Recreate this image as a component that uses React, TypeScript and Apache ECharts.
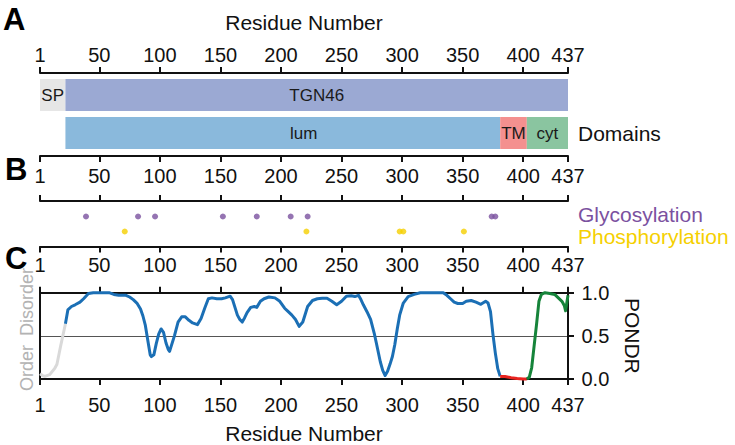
import React, { useEffect, useRef } from 'react';
import * as echarts from 'echarts';

// ---------- data ----------
const residueTicks = [1, 50, 100, 150, 200, 250, 300, 350, 400, 437];

const segmentLabels = ['SP', 'TGN46', 'lum', 'TM', 'cyt'];
const segmentStarts = [1, 22, 22, 381, 403];
const segmentEnds = [22, 437, 381, 403, 437];
const segmentRows = [0, 0, 1, 1, 1];
const rowNames = ['TGN46', 'Domains'];

const ptmRows = ['Glycosylation', 'Phosphorylation'];
const glycosylationSites = [39, 82, 96, 152, 180, 208, 222, 374, 377];
const phosphorylationSites = [71, 221, 298, 301, 351];

const pondrResidues = [
  1, 3, 5, 9, 13, 15, 18, 22, 24, 27, 30, 34, 37, 41, 45, 52, 58, 62, 66, 72, 75, 78, 81, 84, 86, 88, 90, 92, 93, 95,
  97, 99, 101, 103, 105, 107, 108, 110, 112, 115, 118, 121, 124, 127, 131, 134, 137, 140, 143, 147, 151, 154, 158, 160,
  162, 164, 166, 168, 170, 172, 175, 178, 180, 183, 186, 190, 195, 199, 203, 206, 209, 212, 215, 218, 220, 222, 226,
  230, 234, 238, 242, 246, 250, 254, 258, 261, 264, 266, 268, 271, 274, 277, 279, 282, 284, 286, 288, 290, 292, 294,
  296, 298, 301, 305, 310, 315, 320, 328, 334, 337, 340, 343, 346, 350, 353, 357, 361, 365, 369, 371, 373, 375, 377,
  379, 381, 385, 390, 395, 400, 403, 405, 407, 409, 411, 413, 415, 418, 422, 426, 429, 432, 434, 435, 436, 437,
];
const pondrValues = [
  0.06, 0.04, 0.03, 0.05, 0.12, 0.17, 0.38, 0.64, 0.8, 0.84, 0.86, 0.89, 0.93, 0.99, 1.0, 1.0, 1.0, 0.98, 0.97, 0.97,
  0.95, 0.92, 0.88, 0.81, 0.73, 0.62, 0.45, 0.28, 0.26, 0.28, 0.41, 0.52, 0.58, 0.54, 0.42, 0.34, 0.32, 0.41, 0.5, 0.66,
  0.72, 0.72, 0.68, 0.65, 0.63, 0.7, 0.82, 0.93, 0.94, 0.93, 0.93, 0.94, 0.96, 0.92, 0.83, 0.74, 0.69, 0.66, 0.71, 0.77,
  0.83, 0.84, 0.83, 0.9, 0.93, 0.95, 0.94, 0.9, 0.82, 0.78, 0.74, 0.69, 0.61, 0.66, 0.75, 0.84, 0.91, 0.93, 0.935,
  0.935, 0.9, 0.86, 0.9, 0.96, 0.965, 0.955, 0.97, 0.92, 0.86, 0.78, 0.69, 0.53, 0.4, 0.2, 0.1, 0.04, 0.09, 0.17, 0.26,
  0.4, 0.58, 0.74, 0.88, 0.955, 0.98, 1.0, 1.0, 1.0, 1.0, 0.97, 0.93, 0.89, 0.875, 0.875, 0.9, 0.91, 0.89, 0.865, 0.9,
  0.88, 0.78, 0.52, 0.3, 0.12, 0.03, 0.03, 0.015, 0.005, 0.0, 0.0, 0.02, 0.13, 0.38, 0.63, 0.9, 0.98, 1.0, 0.99, 0.98,
  0.94, 0.9, 0.85, 0.79, 0.88, 0.97,
];
const pondrTicks = [0, 0.5, 1];

// ---------- styles ----------
const FONT = '"Liberation Sans", Arial, Helvetica, sans-serif';
const INK = '#111';
const segmentColors = ['#e6e6e6', '#9ba9d3', '#8ab9dc', '#f4908f', '#8ac5a0'];
const segmentLabelShift = [0, 0, 21, 0, 0];
const pondrSegments = [0, 2, 3, 4]; // SP, lum, TM, cyt
const pondrColors = ['#d9d9d9', '#1b6fb5', '#e8231f', '#16843a'];
const ptmColors = ['#7b519f', '#f5d000'];

const lineStyle = { color: INK, width: 2 };

function residueAxis(gridIndex: number, position: string, opts: any) {
  return {
    type: 'value',
    gridIndex,
    position,
    min: 1,
    max: 437,
    offset: opts.offset || 0,
    axisLine: { show: true, onZero: false, lineStyle },
    axisTick: {
      show: true,
      inside: !!opts.tickInside,
      length: 6,
      customValues: residueTicks,
      lineStyle,
    },
    axisLabel: {
      show: !!opts.labels,
      inside: !!opts.labelInside,
      margin: opts.margin ?? 8,
      customValues: residueTicks,
      fontSize: 20,
      fontFamily: FONT,
      color: INK,
    },
    splitLine: { show: false },
    name: opts.name,
    nameLocation: 'middle',
    nameGap: opts.nameGap,
    nameTextStyle: { fontSize: 21, fontFamily: FONT, color: INK },
  };
}

export default function App() {
  const ref = useRef<HTMLDivElement>(null);

  useEffect(() => {
    if (!ref.current) return;
    const chart = echarts.init(ref.current, undefined, { renderer: 'svg' });

    const segData = segmentLabels.map((_, i) => [segmentStarts[i], segmentEnds[i], segmentRows[i], i]);

    const pondrSeries = pondrSegments.map((seg, k) => {
      const data: number[][] = [];
      pondrResidues.forEach((r, i) => {
        if (r >= segmentStarts[seg] && r <= segmentEnds[seg]) data.push([r, pondrValues[i]]);
      });
      return {
        type: 'line',
        xAxisIndex: 5,
        yAxisIndex: 4,
        data,
        symbol: 'none',
        clip: false,
        lineStyle: { color: pondrColors[k], width: 3, join: 'round' },
        z: 5,
      };
    });

    const letter = (t: string, x: number, y: number) => ({
      type: 'text',
      x,
      y,
      style: { text: t, fontSize: 31, fontWeight: 'bold', fontFamily: FONT, fill: '#000', verticalAlign: 'middle' },
    });

    const option: any = {
      animation: false,
      backgroundColor: '#fff',
      grid: [
        { left: 40, width: 528, top: 76, height: 76 },
        { left: 40, width: 528, top: 156, height: 45 },
        { left: 40, width: 528, top: 209, height: 30 },
        { left: 40, width: 528, top: 246.5, height: 46.2 },
        { left: 40, width: 528, top: 292.7, height: 86.6 },
      ],
      xAxis: [
        residueAxis(0, 'top', { labels: true, margin: 8.5, offset: 3, name: 'Residue Number', nameGap: 40 }),
        residueAxis(1, 'top', { labels: true, labelInside: true, tickInside: true, margin: 10 }),
        residueAxis(1, 'bottom', { tickInside: true }),
        { type: 'value', gridIndex: 2, min: 1, max: 437, show: false },
        residueAxis(3, 'top', { labels: true, labelInside: true, tickInside: true, margin: 8.5 }),
        residueAxis(4, 'bottom', { labels: true, margin: 15.5, name: 'Residue Number', nameGap: 44 }),
        residueAxis(4, 'top', {}),
      ],
      yAxis: [
        { type: 'category', gridIndex: 0, data: rowNames, inverse: true, show: false },
        { type: 'value', gridIndex: 1, show: false, min: 0, max: 1 },
        { type: 'category', gridIndex: 2, data: ptmRows, inverse: true, show: false },
        { type: 'value', gridIndex: 3, show: false, min: 0, max: 1 },
        {
          type: 'value',
          gridIndex: 4,
          position: 'right',
          min: 0,
          max: 1,
          interval: 0.5,
          axisLine: { show: true, onZero: false, lineStyle },
          axisTick: { show: true, length: 6, lineStyle, customValues: pondrTicks },
          axisLabel: {
            fontSize: 20,
            fontFamily: FONT,
            color: INK,
            margin: 13.5,
            formatter: (v: number) => v.toFixed(1),
          },
          splitLine: { show: true, lineStyle: { color: '#555', width: 1.2 } },
          name: 'PONDR',
          nameLocation: 'middle',
          nameRotate: -90,
          nameGap: 54,
          nameTextStyle: { fontSize: 21, fontFamily: FONT, color: INK },
        },
        {
          type: 'value',
          gridIndex: 4,
          position: 'left',
          min: 0,
          max: 1,
          axisLine: { show: true, onZero: false, lineStyle },
          axisTick: { show: false },
          axisLabel: { show: false },
          splitLine: { show: false },
        },
      ],
      series: [
        {
          type: 'custom',
          xAxisIndex: 0,
          yAxisIndex: 0,
          data: segData,
          encode: { x: [0, 1], y: 2 },
          renderItem: (params: any, api: any) => {
            const s = api.value(0);
            const e = api.value(1);
            const row = api.value(2);
            const idx = api.value(3);
            const p0 = api.coord([s, row]);
            const p1 = api.coord([e, row]);
            const h = api.size([0, 1])[1] * 0.842;
            return {
              type: 'group',
              children: [
                {
                  type: 'rect',
                  shape: { x: p0[0], y: p0[1] - h / 2, width: p1[0] - p0[0], height: h },
                  style: { fill: segmentColors[idx] },
                },
                {
                  type: 'text',
                  style: {
                    text: segmentLabels[idx],
                    x: (p0[0] + p1[0]) / 2 + segmentLabelShift[idx],
                    y: p0[1],
                    align: 'center',
                    verticalAlign: 'middle',
                    fontSize: 17,
                    fontFamily: FONT,
                    fill: '#1a1a1a',
                  },
                },
              ],
            };
          },
        },
        {
          type: 'scatter',
          name: 'Glycosylation',
          xAxisIndex: 3,
          yAxisIndex: 2,
          symbolSize: 6,
          itemStyle: { color: ptmColors[0] },
          data: glycosylationSites.map((r) => [r, 0]),
        },
        {
          type: 'scatter',
          name: 'Phosphorylation',
          xAxisIndex: 3,
          yAxisIndex: 2,
          symbolSize: 6,
          itemStyle: { color: ptmColors[1] },
          data: phosphorylationSites.map((r) => [r, 1]),
        },
        ...pondrSeries,
      ],
      graphic: [
        letter('A', 3, 19),
        letter('B', 5, 169),
        letter('C', 5, 258),
        { type: 'text', x: 578, y: 133, style: { text: 'Domains', fontSize: 21, fontFamily: FONT, fill: INK, verticalAlign: 'middle' } },
        { type: 'text', x: 578, y: 214, style: { text: 'Glycosylation', fontSize: 21, fontFamily: FONT, fill: ptmColors[0], verticalAlign: 'middle' } },
        { type: 'text', x: 578, y: 236, style: { text: 'Phosphorylation', fontSize: 21, fontFamily: FONT, fill: ptmColors[1], verticalAlign: 'middle' } },
        { type: 'text', x: 27, y: 368, rotation: Math.PI / 2, style: { text: 'Order', fontSize: 18, fontFamily: FONT, fill: '#b3b3b3', align: 'center', verticalAlign: 'middle' } },
        { type: 'text', x: 27, y: 302, rotation: Math.PI / 2, style: { text: 'Disorder', fontSize: 18, fontFamily: FONT, fill: '#b3b3b3', align: 'center', verticalAlign: 'middle' } },
      ],
    };

    chart.setOption(option);
    return () => chart.dispose();
  }, []);

  return (
    <div
      ref={ref}
      style={{ position: 'fixed', left: 0, top: 0, width: 735, height: 445, background: '#fff' }}
    />
  );
}
